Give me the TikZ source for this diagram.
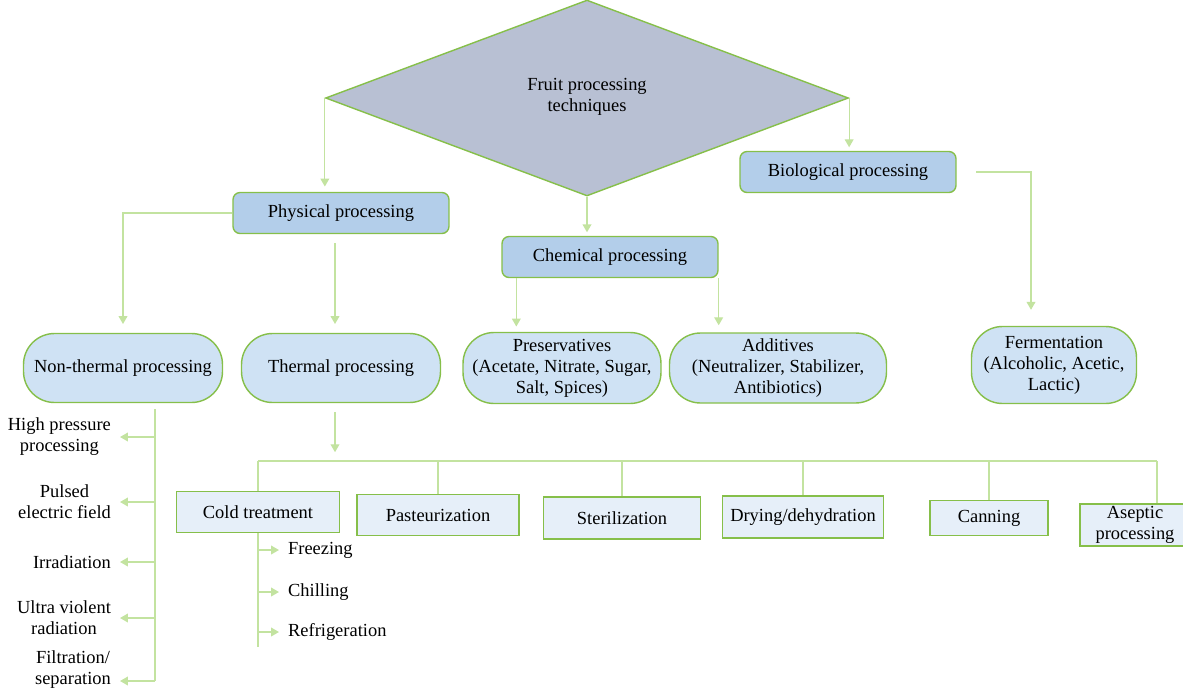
\documentclass[tikz,border=0pt]{standalone}
\usepackage{fontspec}
\setmainfont{Liberation Serif}
\usetikzlibrary{shapes.geometric,arrows.meta}

\definecolor{leafgreen}{HTML}{86BF4A}
\definecolor{linkgreen}{HTML}{C3E3A0}
\definecolor{slategray}{HTML}{B8C0D3}
\definecolor{mainblue}{HTML}{B3CEEA}
\definecolor{pillblue}{HTML}{CFE2F4}
\definecolor{methodblue}{HTML}{E6EFF9}

\tikzset{
    every node/.style={font=\fontsize{10.5}{12}\selectfont},
    mainbox/.style={draw=leafgreen, line width=0.8pt, fill=mainblue,
        rounded corners=4pt, minimum width=4.32cm, minimum height=0.82cm},
    pill/.style={draw=leafgreen, line width=0.8pt, fill=pillblue,
        rounded corners=0.62cm, align=center, inner sep=1pt},
    method/.style={draw=leafgreen, line width=0.8pt, fill=methodblue,
        align=center, inner sep=1pt},
    line/.style={draw=linkgreen, line width=0.7pt},
    link/.style={line, -{Triangle[width=5pt,length=4.5pt]}},
    item/.style={align=center, inner sep=1pt}
}

\begin{document}
\begin{tikzpicture}[x=0.02cm, y=-0.02cm]

\useasboundingbox (0,0) rectangle (1183,690);

% Root
\node[draw=leafgreen,
    line width=0.8pt,
    diamond,
    fill=slategray,
    minimum width=10.46cm,
    minimum height=3.92cm,
    inner sep=0pt,
    align=center] (root) at (587,98) {};
\node[align=center] (roottext) at (587,97) {Fruit processing\\techniques};

% Three branches
\node[mainbox] (phys) at (341,213) {Physical processing};
\node[mainbox] (chem) at (610,257) {Chemical processing};
\node[mainbox] (bio) at (848,172) {Biological processing};

\draw[link, shorten >=3pt] (root.west) -- (root.west |- phys.north);
\draw[link, shorten >=2pt] (root.south) -- (root.south |- chem.north);
\draw[link, shorten >=2pt] (root.east) -- (root.east |- bio.north);

% Second level
\node[pill, minimum width=3.98cm, minimum height=1.38cm] (nonth) at (123,368) {Non-thermal processing};
\node[pill, minimum width=3.98cm, minimum height=1.38cm] (therm) at (341,368) {Thermal processing};
\node[pill, minimum width=3.96cm, minimum height=1.42cm] (pres) at (562,368)
    {Preservatives\\(Acetate, Nitrate, Sugar,\\Salt, Spices)};
\node[pill, minimum width=4.34cm, minimum height=1.40cm] (add) at (778,368)
    {Additives\\(Neutralizer, Stabilizer,\\Antibiotics)};
\node[pill, minimum width=3.30cm, minimum height=1.54cm] (ferm) at (1054,365)
    {Fermentation\\(Alcoholic, Acetic,\\Lactic)};

\draw[link, shorten >=5pt] (phys.west) -| (nonth.north);
\draw[link, shorten <=5pt, shorten >=5pt] ([xshift=-0.12cm]phys.south) -- ([xshift=-0.12cm]therm.north);
\draw[link, shorten >=3pt] ([xshift=0.3cm]chem.south west) -- ([xshift=0.3cm]chem.south west |- pres.north);
\draw[link, shorten >=4pt] (chem.south east) -- (chem.south east |- add.north);
\draw[link, shorten <=5pt] ([xshift=6pt]bio.east) -| ([xshift=-0.46cm,yshift=0.32cm]ferm.north);

% Non-thermal methods
\coordinate (ntop) at (155,409);
\coordinate (nbot) at (155,681);
\node[item, anchor=east] (hpp) at (113,437) {High pressure\\processing};
\node[item, anchor=east] (pef) at (113,502) {Pulsed\\electric field};
\node[item, anchor=east] (irr) at (113,562) {Irradiation};
\node[item, anchor=east] (uvr) at (113,618) {Ultra violent\\radiation};
\node[item, anchor=east] (fil) at (113,670) {Filtration/\\separation};

\draw[line] (ntop) -- (nbot);
\foreach \n in {hpp,pef,irr,uvr}
    \draw[link, shorten >=4pt] (ntop |- \n.east) -- (\n.east);
\draw[link, shorten >=4pt] (nbot) -- (nbot -| fil.east);

% Thermal methods
\coordinate (tbus) at (335,461);
\draw[link, shorten <=5pt, shorten >=5pt] (therm.south -| tbus) -- (tbus);

\node[method, minimum width=3.26cm, minimum height=0.82cm] (cold) at (258,512) {Cold treatment};
\node[method, minimum width=3.24cm, minimum height=0.82cm] (past) at (438,515) {Pasteurization};
\node[method, minimum width=3.14cm, minimum height=0.84cm] (ster) at (622,518) {Sterilization};
\node[method, minimum width=3.22cm, minimum height=0.84cm] (dry) at (803,517) {Drying/dehydration};
\node[method, minimum width=2.36cm, minimum height=0.70cm] (can) at (989,518) {Canning};
\node[method, minimum width=2.20cm, minimum height=0.84cm] (asep) at (1135,525) {Aseptic\\processing};

\draw[line] (cold.north |- tbus) -- ([xshift=0.44cm]asep.north |- tbus);
\foreach \m in {cold,past,ster,dry,can}
    \draw[line] (\m.north |- tbus) -- (\m.north);
\draw[line] ([xshift=0.44cm]asep.north |- tbus) -- ([xshift=0.44cm]asep.north);

% Cold treatment
\coordinate (cbot) at (257,647);
\node[item, anchor=west] (freez) at (286,550) {Freezing};
\node[item, anchor=west] (chill) at (286,592) {Chilling};
\node[item, anchor=west] (refri) at (286,632) {Refrigeration};

\draw[line] (cold.south) -- (cold.south |- cbot);
\foreach \n in {freez,chill,refri}
    \draw[link, shorten >=4pt] (cold.south |- \n.west) -- (\n.west);

\end{tikzpicture}
\end{document}
